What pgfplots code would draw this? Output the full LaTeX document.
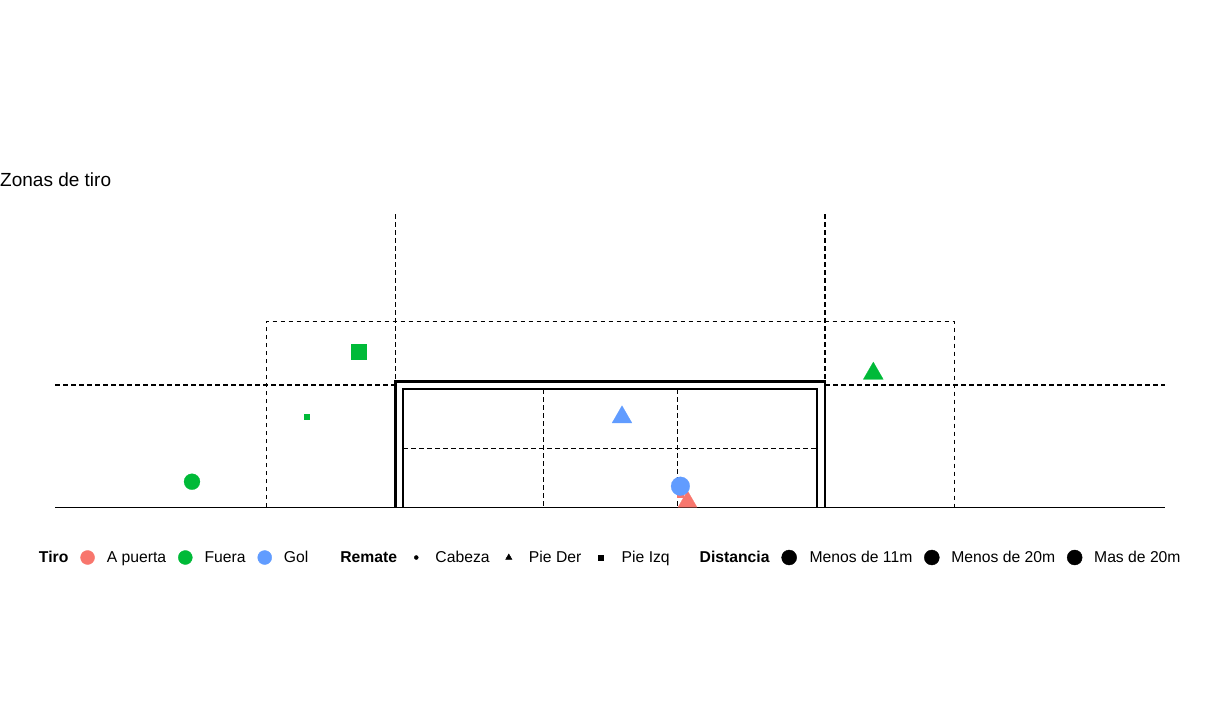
\documentclass[border=0pt]{standalone}
\usepackage{fontspec}
\setmainfont{Liberation Sans}
\usepackage{pgfplots}
\pgfplotsset{compat=1.18}
\definecolor{cRed}{HTML}{F8766D}
\definecolor{cGreen}{HTML}{00BA38}
\definecolor{cBlue}{HTML}{619CFF}
\pgfplotsset{
  keyimg/.style={legend image code/.code={\path (0pt,0pt) (14pt,0pt); \draw[mark repeat=2,mark phase=2,only marks,##1] plot coordinates {(0pt,0pt)(7pt,0pt)(14pt,0pt)};}},
  dsh/.style={black, line width=1.2pt, dash pattern=on 4.5pt off 3.5pt, forget plot},
  goal/.style={black, line width=2.2pt, forget plot},
  pt/.style={only marks, forget plot, color=#1, mark options={solid, draw=#1, fill=#1, line width=0.2pt}},
}
\begin{document}
\begin{tikzpicture}
\useasboundingbox (0,0) rectangle (1221pt,726pt);
\begin{axis}[at={(0,0)}, anchor=south west, width=1221pt, height=726pt, scale only axis,
  xmin=0, xmax=1221, ymin=0, ymax=726, y dir=reverse, hide axis, clip=false,
  legend columns=-1,
  legend style={at={(axis cs:27,557.5)}, anchor=west, draw=none, fill=none, inner sep=0pt, outer sep=0pt,
    column sep=12pt, font=\fontsize{15.7}{18}\selectfont, nodes={inner sep=0pt}},
  legend cell align=left]
% field lines
\addplot[black, line width=1.2pt, forget plot] coordinates {(55,507.3) (1165,507.3)};
\addplot[dsh] coordinates {(55,385) (396,385)};
\addplot[dsh] coordinates {(825,385) (1165,385)};
\addplot[dsh] coordinates {(395.5,214) (395.5,381)};
\addplot[dsh] coordinates {(825,214) (825,381)};
\addplot[dsh] coordinates {(266.3,507) (266.3,321.3) (954.3,321.3) (954.3,507)};
\addplot[dsh] coordinates {(543.3,389) (543.3,507)};
\addplot[dsh] coordinates {(677.3,389) (677.3,507)};
\addplot[dsh] coordinates {(403,448.3) (817,448.3)};
\addplot[goal] coordinates {(395.5,507.3) (395.5,381.5) (825,381.5) (825,507.3)};
\addplot[goal] coordinates {(403,507.3) (403,389.3) (816.7,389.3) (816.7,507.3)};
% shots
\addplot[pt=cGreen, mark=*, mark size=8pt] coordinates {(192,481.7)};
\addplot[pt=cGreen, mark=square*, mark size=2.6pt] coordinates {(306.3,416.3)};
\addplot[pt=cGreen, mark=square*, mark size=7.5pt] coordinates {(358.3,352)};
\addplot[pt=cGreen, mark=triangle*, mark size=11.5pt] coordinates {(873.3,373.5)};
\addplot[pt=cBlue, mark=triangle*, mark size=11.5pt] coordinates {(622,417.2)};
\addplot[pt=cRed, mark=triangle*, mark size=11pt] coordinates {(687.5,501.7)};
\addplot[pt=cRed, mark=square*, mark size=3pt] coordinates {(680.5,494)};
\addplot[pt=cBlue, mark=*, mark size=9.4pt] coordinates {(680.4,486.2)};
% legend
\addlegendimage{empty legend}\addlegendentry{\textbf{Tiro}}
\addlegendimage{keyimg, mark=*, mark size=7pt, mark options={draw=cRed, fill=cRed}}\addlegendentry{A puerta}
\addlegendimage{keyimg, mark=*, mark size=7pt, mark options={draw=cGreen, fill=cGreen}}\addlegendentry{Fuera}
\addlegendimage{keyimg, mark=*, mark size=7pt, mark options={draw=cBlue, fill=cBlue}}\addlegendentry{Gol}
\addlegendimage{empty legend}\addlegendentry{\kern8pt\textbf{Remate}}
\addlegendimage{keyimg, mark=*, mark size=2pt, mark options={fill=black}}\addlegendentry{Cabeza}
\addlegendimage{keyimg, mark=triangle*, mark size=3.6pt, mark options={fill=black}}\addlegendentry{\kern1pt Pie Der}
\addlegendimage{keyimg, mark=square*, mark size=2.5pt, mark options={fill=black}}\addlegendentry{\kern2pt Pie Izq}
\addlegendimage{empty legend}\addlegendentry{\kern6pt\textbf{Distancia}}
\addlegendimage{keyimg, mark=*, mark size=7.5pt, mark options={fill=black}}\addlegendentry{\kern1pt Menos de 11m}
\addlegendimage{keyimg, mark=*, mark size=7.5pt, mark options={fill=black}}\addlegendentry{Menos de 20m}
\addlegendimage{keyimg, mark=*, mark size=7.5pt, mark options={fill=black}}\addlegendentry{Mas de 20m}
\node[anchor=base west, inner sep=0pt, font=\fontsize{19}{23}\selectfont] at (axis cs:0,186.7) {Zonas de tiro};
\end{axis}
\end{tikzpicture}
\end{document}
